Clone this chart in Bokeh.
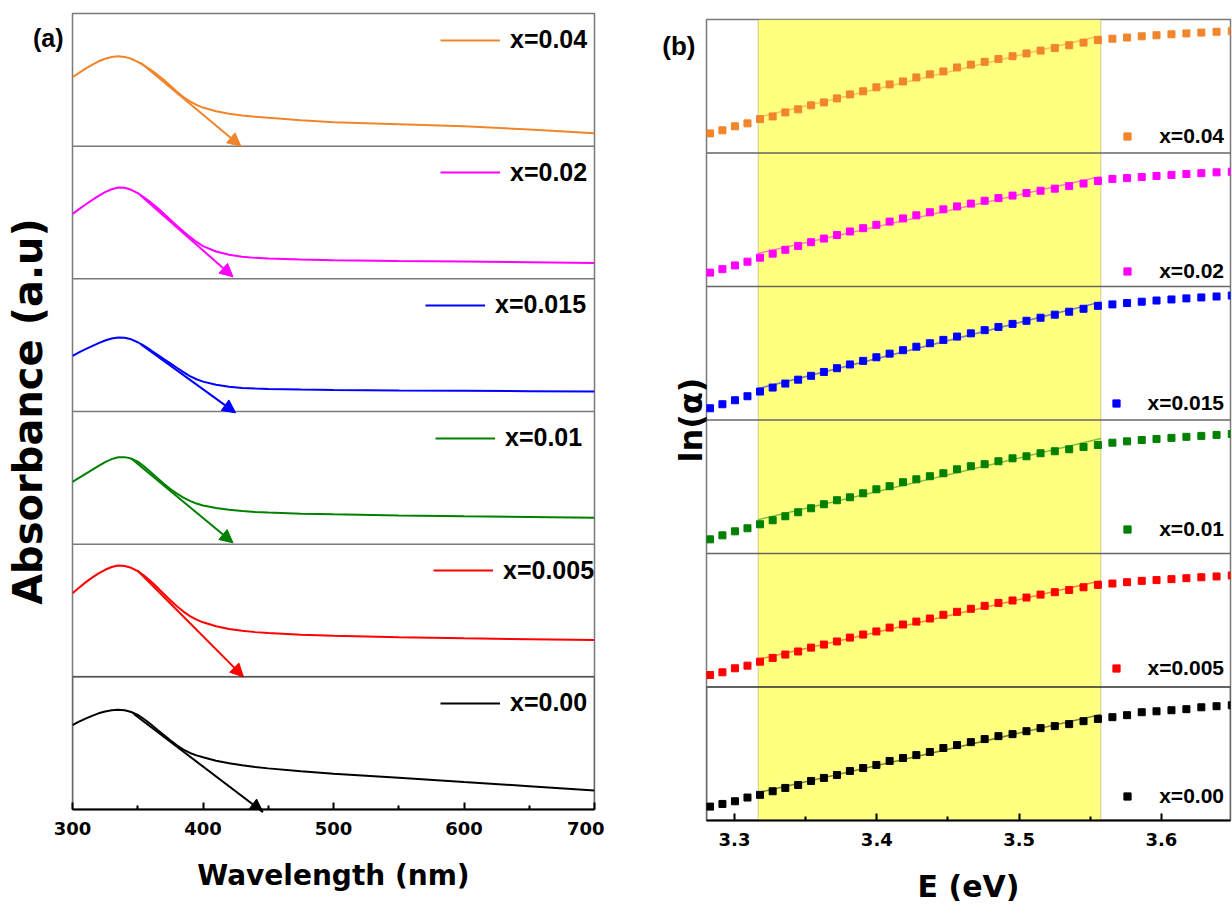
import numpy as np
from bokeh.plotting import figure
from bokeh.models import (Range1d, FixedTicker, Span, BoxAnnotation, Arrow, NormalHead,
                          Legend, LegendItem)
from bokeh.layouts import row
from bokeh.embed import file_html
from bokeh.resources import INLINE

# ---------------- data ----------------
series_labels = ["x=0.00", "x=0.005", "x=0.01", "x=0.015", "x=0.02", "x=0.04"]
series_colors = ["#000000", "#FF0000", "#008000", "#0000FF", "#FF00FF", "#F1852B"]

# panel (a): absorbance (each curve normalised to its own strip, 0..1)
wavelength = [300, 305, 310, 315, 320, 325, 330, 335, 340, 345, 350, 355, 360, 365, 370, 375,
              380, 385, 390, 395, 400, 410, 420, 430, 440, 450, 475, 500, 550, 600, 650, 700]
abs_x000 = [0.636, 0.662, 0.685, 0.706, 0.725, 0.739, 0.748, 0.752, 0.748, 0.735, 0.713, 0.680,
            0.642, 0.601, 0.561, 0.521, 0.484, 0.452, 0.426, 0.408, 0.394, 0.368, 0.348, 0.333,
            0.320, 0.310, 0.288, 0.270, 0.240, 0.207, 0.176, 0.144]
abs_x0005 = [0.630, 0.672, 0.712, 0.748, 0.780, 0.807, 0.828, 0.839, 0.836, 0.822, 0.797, 0.762,
             0.720, 0.673, 0.625, 0.577, 0.532, 0.492, 0.458, 0.431, 0.411, 0.381, 0.361, 0.347,
             0.337, 0.330, 0.318, 0.310, 0.298, 0.290, 0.284, 0.278]
abs_x001 = [0.470, 0.500, 0.530, 0.560, 0.590, 0.618, 0.641, 0.655, 0.656, 0.645, 0.622, 0.585,
            0.542, 0.498, 0.456, 0.416, 0.381, 0.351, 0.326, 0.306, 0.291, 0.272, 0.260, 0.250,
            0.243, 0.238, 0.230, 0.225, 0.217, 0.210, 0.205, 0.200]
abs_x0015 = [0.420, 0.445, 0.470, 0.493, 0.515, 0.535, 0.550, 0.558, 0.556, 0.544, 0.522, 0.494,
             0.462, 0.429, 0.396, 0.363, 0.330, 0.297, 0.267, 0.243, 0.225, 0.201, 0.187, 0.178,
             0.173, 0.170, 0.166, 0.163, 0.159, 0.156, 0.153, 0.150]
abs_x002 = [0.490, 0.525, 0.560, 0.593, 0.625, 0.653, 0.675, 0.688, 0.686, 0.671, 0.646, 0.613,
            0.576, 0.535, 0.491, 0.446, 0.401, 0.357, 0.316, 0.278, 0.247, 0.206, 0.181, 0.166,
            0.158, 0.153, 0.146, 0.141, 0.135, 0.130, 0.125, 0.120]
abs_x004 = [0.520, 0.553, 0.585, 0.613, 0.640, 0.659, 0.672, 0.677, 0.673, 0.659, 0.636, 0.608,
            0.575, 0.539, 0.500, 0.455, 0.410, 0.370, 0.338, 0.311, 0.291, 0.263, 0.245, 0.232,
            0.222, 0.214, 0.195, 0.180, 0.165, 0.150, 0.125, 0.097]
absorbance = [abs_x000, abs_x0005, abs_x001, abs_x0015, abs_x002, abs_x004]

# tangent arrows (start / end, wavelength and strip value)
arrow_x0 = [347, 350, 345, 352, 352, 352]
arrow_y0 = [0.72, 0.80, 0.645, 0.51, 0.63, 0.63]
arrow_x1 = [446, 431, 423, 425, 423, 429]
arrow_y1 = [-0.02, 0.0, 0.01, -0.01, 0.015, 0.0]

# panel (b): ln(alpha) vs E (each normalised to its own strip, 0..1)
energy = [3.2828, 3.2915, 3.3003, 3.3091, 3.3179, 3.3268, 3.3357, 3.3447, 3.3538, 3.3628,
          3.3720, 3.3811, 3.3904, 3.3997, 3.4090, 3.4184, 3.4278, 3.4373, 3.4468, 3.4564,
          3.4661, 3.4758, 3.4855, 3.4954, 3.5052, 3.5151, 3.5251, 3.5352, 3.5453, 3.5554,
          3.5656, 3.5759, 3.5862, 3.5966, 3.6071, 3.6176, 3.6281, 3.6388, 3.6495]
ln_x000 = [0.104, 0.124, 0.144, 0.172, 0.192, 0.219, 0.244, 0.266, 0.296, 0.319, 0.341, 0.371,
           0.393, 0.416, 0.446, 0.468, 0.490, 0.513, 0.543, 0.565, 0.587, 0.610, 0.632, 0.647,
           0.669, 0.692, 0.707, 0.722, 0.744, 0.761, 0.774, 0.789, 0.811, 0.818, 0.826, 0.834,
           0.848, 0.856, 0.863]
ln_x0005 = [0.090, 0.110, 0.140, 0.160, 0.190, 0.218, 0.243, 0.266, 0.295, 0.318, 0.341, 0.370,
            0.393, 0.416, 0.445, 0.468, 0.490, 0.513, 0.541, 0.563, 0.586, 0.608, 0.630, 0.648,
            0.670, 0.692, 0.710, 0.727, 0.747, 0.765, 0.775, 0.785, 0.795, 0.801, 0.808, 0.815,
            0.822, 0.828, 0.835]
ln_x001 = [0.106, 0.136, 0.166, 0.189, 0.219, 0.249, 0.279, 0.309, 0.339, 0.369, 0.399, 0.421,
           0.451, 0.481, 0.504, 0.534, 0.556, 0.579, 0.601, 0.631, 0.654, 0.669, 0.691, 0.713,
           0.728, 0.751, 0.766, 0.781, 0.798, 0.813, 0.830, 0.840, 0.850, 0.858, 0.866, 0.874,
           0.881, 0.888, 0.895]
ln_x0015 = [0.088, 0.118, 0.148, 0.178, 0.213, 0.243, 0.273, 0.302, 0.331, 0.360, 0.388, 0.416,
            0.443, 0.470, 0.497, 0.523, 0.549, 0.575, 0.600, 0.625, 0.649, 0.673, 0.697, 0.720,
            0.743, 0.766, 0.789, 0.811, 0.833, 0.855, 0.866, 0.876, 0.886, 0.895, 0.903, 0.911,
            0.918, 0.925, 0.932]
ln_x002 = [0.104, 0.130, 0.158, 0.186, 0.216, 0.246, 0.275, 0.304, 0.332, 0.359, 0.386, 0.412,
           0.437, 0.462, 0.486, 0.510, 0.533, 0.556, 0.578, 0.600, 0.621, 0.642, 0.662, 0.681,
           0.700, 0.717, 0.733, 0.752, 0.771, 0.790, 0.806, 0.812, 0.820, 0.828, 0.836, 0.843,
           0.849, 0.855, 0.860]
ln_x004 = [0.147, 0.170, 0.200, 0.222, 0.254, 0.274, 0.304, 0.327, 0.357, 0.379, 0.409, 0.439,
           0.462, 0.492, 0.514, 0.536, 0.566, 0.589, 0.611, 0.641, 0.662, 0.683, 0.704, 0.725,
           0.746, 0.767, 0.787, 0.807, 0.827, 0.846, 0.856, 0.865, 0.874, 0.882, 0.889, 0.896,
           0.902, 0.908, 0.913]
ln_alpha = [ln_x000, ln_x0005, ln_x001, ln_x0015, ln_x002, ln_x004]
fit_band = [3.3166, 3.5575]          # Urbach fit window (yellow)
fit_index = [4, 30]                  # points used in the linear fit

wl_ticks = [300, 400, 500, 600, 700]
wl_minor = [350, 450, 550, 650]
e_ticks = [3.3, 3.4, 3.5, 3.6]
e_minor = [3.35, 3.45, 3.55, 3.65]
panel_tags = ["(a)", "(b)"]

# ---------------- styling ----------------
AX_FONT = "DejaVu Sans"
LEG_FONT = "Liberation Sans"
N = 6
FRAME_GRAY = "#7a7a7a"


def style(p, ticks, minor, xlabel, ylabel, ylabel_size, ylabel_standoff,
          tag, tag_y, tag_size, tag_standoff, xlabel_standoff):
    p.grid.visible = False
    p.outline_line_color = FRAME_GRAY
    p.outline_line_width = 1.5
    p.background_fill_color = "white"
    p.border_fill_color = "white"
    ya = p.yaxis[0]
    # the panel tag is drawn as the single (override) label of the left axis
    ya.ticker = FixedTicker(ticks=[tag_y])
    ya.major_label_overrides = {tag_y: tag}
    ya.axis_line_color = None
    ya.major_tick_line_color = None
    ya.minor_tick_line_color = None
    ya.major_tick_out = 0
    ya.major_tick_in = 0
    ya.major_label_text_font = LEG_FONT
    ya.major_label_text_font_style = "bold"
    ya.major_label_text_font_size = tag_size
    ya.major_label_text_color = "black"
    ya.major_label_standoff = tag_standoff
    ya.axis_label = ylabel
    ya.axis_label_text_font = AX_FONT
    ya.axis_label_text_font_style = "bold"
    ya.axis_label_text_font_size = ylabel_size
    ya.axis_label_text_color = "black"
    ya.axis_label_standoff = ylabel_standoff
    xa = p.xaxis[0]
    xa.ticker = FixedTicker(ticks=ticks, minor_ticks=minor)
    xa.axis_line_color = "black"
    xa.axis_line_width = 2
    xa.major_tick_line_color = "black"
    xa.major_tick_line_width = 2
    xa.minor_tick_line_color = "black"
    xa.minor_tick_line_width = 2
    xa.major_tick_in = 7
    xa.major_tick_out = 0
    xa.minor_tick_in = 4
    xa.minor_tick_out = 0
    xa.major_label_text_font = AX_FONT
    xa.major_label_text_font_style = "bold"
    xa.major_label_text_font_size = "18px"
    xa.major_label_text_color = "black"
    xa.major_label_standoff = 12
    xa.axis_label = xlabel
    xa.axis_label_text_font = AX_FONT
    xa.axis_label_text_font_style = "bold"
    xa.axis_label_text_font_size = "28px"
    xa.axis_label_text_color = "black"
    xa.axis_label_standoff = xlabel_standoff


# ---------------- panel (a) ----------------
FA_L, FA_T = 72, 13
FA_W, FA_H = 522, 796
pa = figure(frame_width=FA_W, frame_height=FA_H, x_range=Range1d(300, 700), y_range=Range1d(0, N),
            output_backend="svg", toolbar_location=None, frame_align=False,
            min_border_left=FA_L, min_border_right=10, min_border_top=FA_T, min_border_bottom=95)
tag_a_y = round(N - (38 - FA_T) * N / FA_H, 4)
style(pa, wl_ticks, wl_minor, "Wavelength (nm)", "Absorbance (a.u)", "40px", -21,
      panel_tags[0], tag_a_y, "25px", 9, 21)

for k in range(1, N):
    pa.add_layout(Span(location=k, dimension="width", line_color=FRAME_GRAY, line_width=1.5))
pa.add_layout(BoxAnnotation(bottom=0, top=1, fill_alpha=0, line_color="black", line_width=2,
                            level="overlay"))

leg_a_left = [440, 433, 435, 425, 440, 440]   # page px of legend line start
for k in range(N):
    c = series_colors[k]
    y = np.array(absorbance[k]) + k
    r = pa.line(wavelength, y, line_color=c, line_width=2)
    pa.add_layout(Arrow(end=NormalHead(size=13, fill_color=c, line_color=c, line_width=1),
                        x_start=arrow_x0[k], y_start=arrow_y0[k] + k,
                        x_end=arrow_x1[k], y_end=arrow_y1[k] + k,
                        line_color=c, line_width=2))
    h = 30
    vy = FA_H * (k + 1) / N - 26.5 - h / 2
    leg = Legend(items=[LegendItem(label=series_labels[k], renderers=[r])],
                 location=(leg_a_left[k] - FA_L, vy), orientation="vertical",
                 glyph_width=60, glyph_height=h, label_height=h, label_standoff=10,
                 padding=0, margin=0, spacing=0,
                 border_line_alpha=0, background_fill_alpha=0,
                 label_text_font=LEG_FONT, label_text_font_style="bold",
                 label_text_font_size="25px", label_text_color="black")
    pa.add_layout(leg)

# ---------------- panel (b) ----------------
FB_L, FB_T = 706, 19
FB_W, FB_H = 524, 801
XB = (3.2803, 3.6486)
pb = figure(frame_width=FB_W, frame_height=FB_H, x_range=Range1d(*XB),
            y_range=Range1d(0, N), output_backend="svg", toolbar_location=None, frame_align=False,
            min_border_left=FB_L - 604, min_border_right=2, min_border_top=FB_T, min_border_bottom=84)
tag_b_y = round(N - (46 - FB_T) * N / FB_H, 4)
style(pb, e_ticks, e_minor, "E (eV)", "ln(α)", "32px", -51,
      panel_tags[1], tag_b_y, "26px", 11, 20)
pb.xaxis[0].axis_label_text_font_size = "30px"

pb.add_layout(BoxAnnotation(left=fit_band[0], right=fit_band[1], fill_color="#FFFF80", fill_alpha=1,
                            line_color="#555555", line_width=1, level="underlay"))
for k in range(1, N):
    pb.add_layout(Span(location=k, dimension="width", line_color="#666666", line_width=1.3))
pb.add_layout(BoxAnnotation(bottom=0, top=1, fill_alpha=0, line_color="black", line_width=2,
                            level="overlay"))

E = np.array(energy)
i0, i1 = fit_index
leg_text_w = [64.8, 76.5, 64.8, 76.5, 64.8, 64.8]  # approx. label widths (px) for right alignment
leg_b_cy = [796, 668, 529, 403, 271, 136]          # page px of legend centre
for k in range(N):
    c = series_colors[k]
    v = np.array(ln_alpha[k])
    coef = np.polyfit(E[i0:i1], v[i0:i1], 1)
    fx = np.array(fit_band)
    pb.line(fx, np.polyval(coef, fx) + k, line_color=c, line_alpha=0.5, line_width=1.5)
    r = pb.scatter(E, v + k, marker="square", size=7, fill_color=c, line_color=c)
    h = 24
    vy = (FB_H + FB_T) - leg_b_cy[k] - h / 2
    left = 1224 - leg_text_w[k] - 23 - 18
    leg = Legend(items=[LegendItem(label=series_labels[k], renderers=[r])],
                 location=(left - FB_L, vy), orientation="vertical",
                 glyph_width=18, glyph_height=h, label_height=h, label_standoff=23,
                 padding=0, margin=0, spacing=0,
                 border_line_alpha=0, background_fill_alpha=0,
                 label_text_font=LEG_FONT, label_text_font_style="bold",
                 label_text_font_size="21px", label_text_color="black")
    pb.add_layout(leg)

layout = row(pa, pb)
open("out.html", "w").write(file_html(layout, INLINE))
